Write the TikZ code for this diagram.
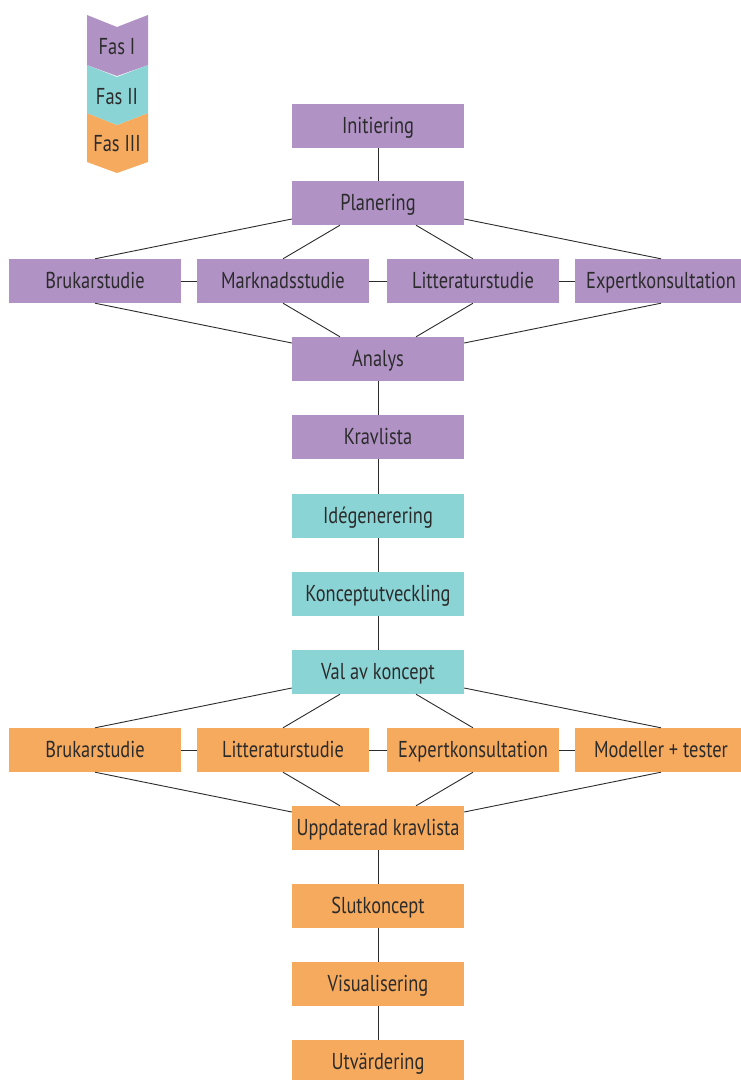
\documentclass[tikz,border=0pt]{standalone}
\usepackage{fontspec}
\setmainfont[FakeStretch=0.8]{PT Sans}
\definecolor{fasI}{RGB}{176,146,196}
\definecolor{fasII}{RGB}{139,212,214}
\definecolor{fasIII}{RGB}{246,170,94}
\definecolor{ink}{RGB}{43,43,43}
\begin{document}
\begin{tikzpicture}[x=1pt,y=-1pt]
    \tikzset{%
      box/.style={rectangle, inner sep=0pt, minimum width=172pt,
        minimum height=44pt, text=ink, text height=18pt, text depth=3pt,
        font=\fontsize{23}{23}\selectfont},
      p1/.style={box, fill=fasI},
      p2/.style={box, fill=fasII},
      p3/.style={box, fill=fasIII},
      link/.style={draw=ink, line width=0.9pt},
      tag/.style={text=ink, text height=18pt, text depth=3pt,
        font=\fontsize{23}{23}\selectfont},
    }
    \useasboundingbox (0,0) rectangle (740,1080);
%legend
    \fill[fasIII] (87,113) -- (117,125) -- (148,113) -- (148,162)
      -- (117,173) -- (87,162) -- cycle;
    \fill[fasII] (87,65) -- (117,77) -- (148,65) -- (148,113)
      -- (117,125) -- (87,113) -- cycle;
    \fill[fasI] (87,15) -- (117,27) -- (148,15) -- (148,65)
      -- (117,76) -- (87,65) -- cycle;
    \node[tag] (legI) at (117,47) {Fas I};
    \node[tag] (legII) at (117,97) {Fas II};
    \node[tag] (legIII) at (117,144) {Fas III};
%Fas I
    \node[p1] (init) at (378,126) {Initiering};
    \node[p1] (plan) at (378,203) {Planering};
    \node[p1] (bruk1) at (95,281) {Brukarstudie};
    \node[p1] (mark1) at (283,281) {Marknadsstudie};
    \node[p1] (litt1) at (473,281) {Litteraturstudie};
    \node[p1] (expt1) at (661,281) {Expertkonsultation};
    \node[p1] (anal) at (378,359) {Analys};
    \node[p1] (krav) at (378,437) {Kravlista};
%Fas II
    \node[p2] (idea) at (378,516) {Idégenerering};
    \node[p2] (konc) at (378,594) {Konceptutveckling};
    \node[p2] (val) at (378,672) {Val av koncept};
%Fas III
    \node[p3] (bruk2) at (95,750) {Brukarstudie};
    \node[p3] (litt2) at (283,750) {Litteraturstudie};
    \node[p3] (expt2) at (473,750) {Expertkonsultation};
    \node[p3] (mod2) at (661,750) {Modeller + tester};
    \node[p3] (uppd) at (378,828) {Uppdaterad kravlista};
    \node[p3] (slut) at (378,906) {Slutkoncept};
    \node[p3] (vis) at (378,984) {Visualisering};
    \node[p3] (utv) at (378,1062) {Utvärdering};
%chain
    \draw[link] (init) -- (plan);
    \draw[link] (anal) -- (krav);
    \draw[link] (krav) -- (idea);
    \draw[link] (idea) -- (konc);
    \draw[link] (konc) -- (val);
    \draw[link] (uppd) -- (slut);
    \draw[link] (slut) -- (vis);
    \draw[link] (vis) -- (utv);
%first fan
    \draw[link] ([yshift=-16pt]plan.west) -- (bruk1.north);
    \draw[link] ([xshift=-38pt]plan.south) -- (mark1.north);
    \draw[link] ([xshift=38pt]plan.south) -- (litt1.north);
    \draw[link] ([yshift=-16pt]plan.east) -- (expt1.north);
    \draw[link] (bruk1) -- (mark1);
    \draw[link] (mark1) -- (litt1);
    \draw[link] (litt1) -- (expt1);
    \draw[link] (bruk1.south) -- ([yshift=16pt]anal.west);
    \draw[link] (mark1.south) -- ([xshift=-38pt]anal.north);
    \draw[link] (litt1.south) -- ([xshift=38pt]anal.north);
    \draw[link] (expt1.south) -- ([yshift=16pt]anal.east);
%second fan
    \draw[link] ([yshift=-16pt]val.west) -- (bruk2.north);
    \draw[link] ([xshift=-38pt]val.south) -- (litt2.north);
    \draw[link] ([xshift=38pt]val.south) -- (expt2.north);
    \draw[link] ([yshift=-16pt]val.east) -- (mod2.north);
    \draw[link] (bruk2) -- (litt2);
    \draw[link] (litt2) -- (expt2);
    \draw[link] (expt2) -- (mod2);
    \draw[link] (bruk2.south) -- ([yshift=16pt]uppd.west);
    \draw[link] (litt2.south) -- ([xshift=-38pt]uppd.north);
    \draw[link] (expt2.south) -- ([xshift=38pt]uppd.north);
    \draw[link] (mod2.south) -- ([yshift=16pt]uppd.east);
\end{tikzpicture}
\end{document}
